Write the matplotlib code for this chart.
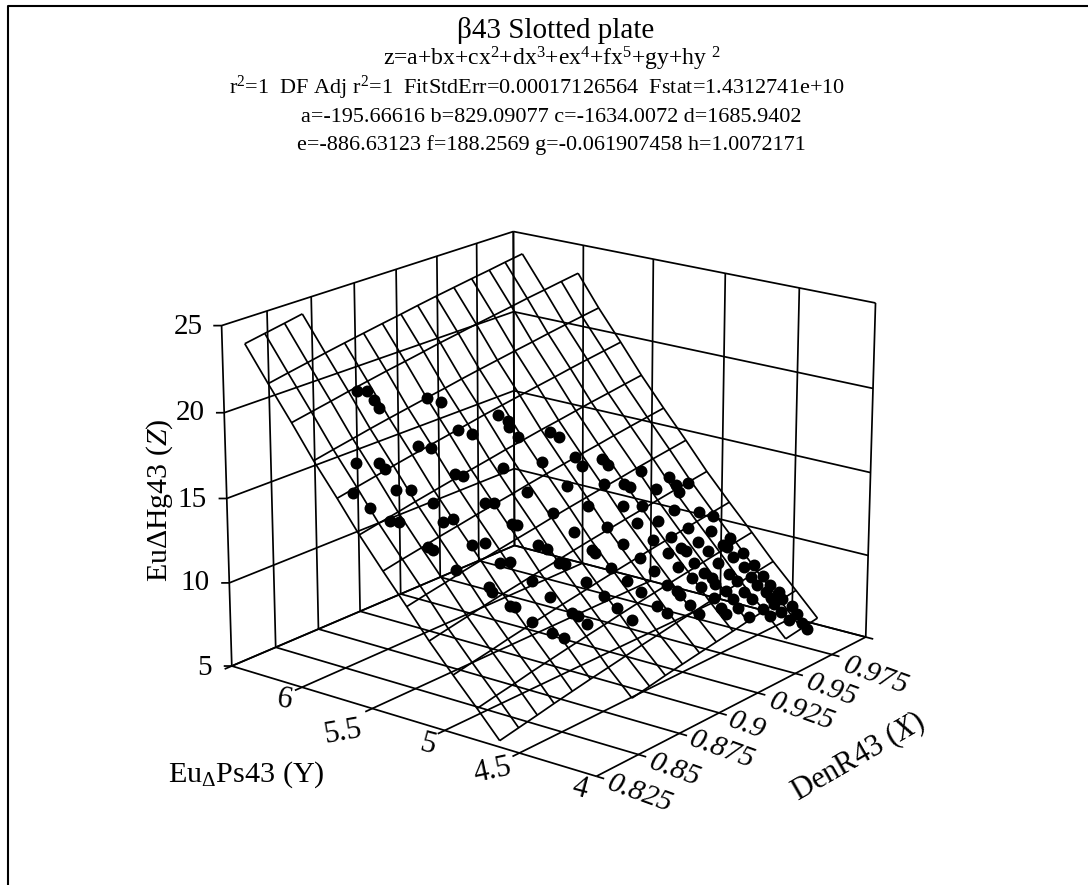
import numpy as np
import matplotlib
matplotlib.use('Agg')
import matplotlib.pyplot as plt

nan = float('nan')

# fitted surface, read on its own grid (gaps = outside the z range)
x_grid = [0.825, 0.836, 0.847, 0.857, 0.868, 0.879, 0.890, 0.901, 0.911, 0.922, 0.933, 0.944, 0.955, 0.965, 0.976, 0.987, 0.998]
y_grid = [6.35, 6.19, 6.03, 5.88, 5.72, 5.57, 5.41, 5.25, 5.10, 4.94, 4.78, 4.63, 4.47, 4.32]
z_grid = [
    [24.27, 24.48, 24.69, 24.89, nan, nan, nan, nan, nan, nan, nan, nan, nan, nan, nan, nan, nan],
    [22.30, 22.52, 22.73, 22.93, 23.13, 23.32, 23.51, 23.69, 23.87, 24.05, 24.22, 24.39, 24.55, 24.71, 24.87, nan, nan],
    [20.39, 20.60, 20.81, 21.01, 21.21, 21.41, 21.59, 21.78, 21.96, 22.13, 22.31, 22.47, 22.64, 22.80, 22.95, 23.11, 23.26],
    [18.52, 18.74, 18.95, 19.15, 19.35, 19.54, 19.73, 19.91, 20.09, 20.27, 20.44, 20.61, 20.77, 20.93, 21.09, 21.24, 21.39],
    [16.71, 16.92, 17.13, 17.33, 17.53, 17.72, 17.91, 18.10, 18.28, 18.45, 18.62, 18.79, 18.95, 19.11, 19.27, 19.42, 19.57],
    [14.94, 15.15, 15.36, 15.56, 15.76, 15.96, 16.14, 16.33, 16.51, 16.68, 16.86, 17.02, 17.19, 17.35, 17.50, 17.66, 17.81],
    [13.22, 13.44, 13.64, 13.85, 14.04, 14.24, 14.43, 14.61, 14.79, 14.97, 15.14, 15.31, 15.47, 15.63, 15.79, 15.94, 16.09],
    [11.55, 11.77, 11.97, 12.18, 12.38, 12.57, 12.76, 12.94, 13.12, 13.30, 13.47, 13.64, 13.80, 13.96, 14.12, 14.27, 14.42],
    [9.93, 10.15, 10.36, 10.56, 10.76, 10.95, 11.14, 11.32, 11.50, 11.68, 11.85, 12.02, 12.18, 12.34, 12.50, 12.65, 12.80],
    [8.36, 8.58, 8.78, 8.99, 9.19, 9.38, 9.57, 9.75, 9.93, 10.11, 10.28, 10.45, 10.61, 10.77, 10.93, 11.08, 11.23],
    [6.84, 7.06, 7.26, 7.47, 7.66, 7.86, 8.05, 8.23, 8.41, 8.59, 8.76, 8.93, 9.09, 9.25, 9.41, 9.56, 9.71],
    [5.37, 5.58, 5.79, 5.99, 6.19, 6.39, 6.57, 6.76, 6.94, 7.11, 7.29, 7.45, 7.62, 7.78, 7.93, 8.09, 8.24],
    [nan, nan, nan, nan, nan, nan, 5.15, 5.34, 5.52, 5.69, 5.86, 6.03, 6.19, 6.35, 6.51, 6.66, 6.81],
    [nan, nan, nan, nan, nan, nan, nan, nan, nan, nan, nan, nan, nan, nan, 5.14, 5.29, 5.44],
]

# data points: x y z
pts = """0.861 6.02 20.9|0.865 6.00 20.8|0.866 5.96 20.3|0.866 5.93 19.9|0.890 5.88 19.7|0.895 5.84 19.4|0.917 5.69 18.1
0.920 5.66 17.7|0.919 5.64 17.4|0.920 5.59 16.9|0.895 5.72 18.0|0.900 5.68 17.6|0.873 5.74 17.8|0.878 5.71 17.6
0.842 5.80 17.9|0.852 5.76 17.6|0.853 5.73 17.3|0.904 5.51 15.8|0.881 5.58 16.2|0.884 5.56 16.0|0.833 5.71 16.7
0.852 5.64 16.3|0.858 5.61 16.1|0.908 5.39 14.5|0.864 5.53 15.3|0.886 5.43 14.6|0.890 5.41 14.5|0.836 5.63 15.9
0.841 5.55 15.1|0.844 5.53 15.0|0.863 5.45 14.4|0.868 5.44 14.4|0.892 5.31 13.4|0.894 5.30 13.3|0.850 5.40 13.6
0.851 5.38 13.4|0.869 5.32 13.1|0.875 5.30 13.0|0.876 5.21 12.0|0.880 5.19 11.9|0.855 5.27 12.3|0.864 5.15 11.2
0.864 5.13 11.0|0.868 5.05 10.2|0.869 5.03 10.1|0.936 5.54 16.7|0.939 5.51 16.3|0.924 5.46 15.5|0.940 5.41 15.3
0.941 5.37 14.8|0.952 5.35 14.8|0.953 5.32 14.5|0.966 5.23 13.8|0.978 5.16 13.1|0.978 5.11 12.7|0.977 5.08 12.4
0.928 5.33 14.2|0.945 5.26 13.8|0.954 5.22 13.5|0.956 5.20 13.3|0.968 5.14 12.8|0.931 5.22 13.1|0.913 5.26 13.3
0.947 5.15 12.6|0.956 5.11 12.3|0.969 5.03 11.7|0.917 5.16 12.2|0.933 5.11 12.0|0.948 5.06 11.7|0.958 5.02 11.5
0.897 5.19 12.2|0.900 5.16 11.9|0.919 5.06 11.3|0.920 5.05 11.1|0.935 5.02 11.1|0.950 4.97 10.8|0.959 4.94 10.7
0.938 4.93 10.3|0.952 4.89 10.1|0.901 5.09 11.2|0.903 5.07 11.1|0.922 4.96 10.3|0.940 4.86 9.6|0.952 4.82 9.4
0.884 5.08 10.9|0.907 4.97 10.1|0.925 4.88 9.6|0.941 4.78 8.9|0.927 4.81 9.0|0.944 4.74 8.5|0.887 4.99 10.0
0.910 4.88 9.3|0.930 4.73 8.2|0.912 4.81 8.7|0.891 4.89 9.1|0.893 4.87 8.9|0.932 4.68 7.8|0.915 4.74 8.0
0.872 4.95 9.3|0.894 4.82 8.5|0.877 4.87 8.6|0.880 4.82 8.3|0.985 5.10 12.6|0.980 4.97 11.3|0.986 4.93 10.9
0.970 4.94 10.8|0.980 4.88 10.3|0.986 4.81 9.8|0.970 4.87 10.1|0.980 4.80 9.6|0.981 4.78 9.5|0.960 4.88 10.1
0.961 4.86 9.9|0.971 4.81 9.6|0.987 4.73 9.0|0.981 4.74 9.0|0.961 4.80 9.3|0.972 4.75 9.0|0.988 4.66 8.4
0.982 4.67 8.5|0.962 4.74 8.8|0.973 4.68 8.4|0.988 4.60 7.8|0.982 4.62 8.0|0.955 4.75 8.8|0.964 4.71 8.5
0.956 4.70 8.3|0.974 4.64 8.0|0.963 4.68 8.2|0.982 4.58 7.6|0.988 4.55 7.4|0.944 4.72 8.3|0.966 4.63 7.8
0.974 4.59 7.5|0.983 4.53 7.2|0.989 4.50 7.0|0.958 4.63 7.7|0.966 4.58 7.4|0.975 4.54 7.1|0.984 4.50 6.9
0.988 4.47 6.7|0.945 4.66 7.8|0.965 4.54 7.0|0.958 4.58 7.2|0.976 4.48 6.6|0.983 4.47 6.6|0.990 4.42 6.3
0.946 4.61 7.3|0.958 4.55 6.9|0.967 4.48 6.5|0.977 4.44 6.2|0.984 4.43 6.2|0.990 4.38 5.9|0.984 4.38 5.8
0.989 4.34 5.5|0.989 4.30 5.2"""
rows = [[float(v) for v in p.split()] for p in pts.replace('\n', '|').split('|')]
x_pts = [r[0] for r in rows]
y_pts = [r[1] for r in rows]
z_pts = [r[2] for r in rows]

x_ticks = [0.825, 0.85, 0.875, 0.9, 0.925, 0.95, 0.975]
y_ticks = [4, 4.5, 5, 5.5, 6]
z_ticks = [5, 10, 15, 20, 25]
x_min, x_max = 0.825, 0.9987
y_min, y_max = 4, 6.5142
z_min, z_max = 5, 25

plt.rcParams['font.family'] = ['Liberation Serif', 'DejaVu Serif']
plt.rcParams['mathtext.fontset'] = 'custom'
plt.rcParams['mathtext.rm'] = 'Liberation Serif'
plt.rcParams['mathtext.it'] = 'Liberation Serif:italic'

W, H = 1088, 885
fig = plt.figure(figsize=(W/100, H/100), dpi=100)
ax = fig.add_subplot(projection='3d', computed_zorder=False)
ax.view_init(18.586, -142.254)
ax.set_proj_type('persp', focal_length=0.9406)
ax.set_box_aspect((1, 1.0021, 0.7761))
ax.set_axis_off()

# place the 3d box on the page
scale, tx, ty = 3882.680, 552.050, 399.615
vl = ax.viewLim
ax.set_position([(tx + scale*vl.x0)/W, (ty + scale*vl.y0)/H, scale*vl.width/W, scale*vl.width/H])

lw = 1.25
def line(xs, ys, zs, w=lw, z=1):
    ax.plot(xs, ys, zs, color='black', lw=w, zorder=z, solid_capstyle='butt')

# floor, walls
for x in x_ticks[1:] + [x_max]:
    line([x, x], [y_min - 0.05, y_max], [z_min, z_min])
    line([x, x], [y_max, y_max], [z_min, z_max])
for y in y_ticks[1:] + [y_max]:
    line([x_min - 0.004, x_max], [y, y], [z_min, z_min])
    line([x_max, x_max], [y, y], [z_min, z_max])
line([x_min, x_max], [y_min, y_min], [z_min, z_min])
line([x_min, x_min], [y_min, y_max], [z_min, z_min])
line([x_max, x_max], [y_min, y_min], [z_min, z_max])
line([x_min, x_min], [y_max, y_max], [z_min, z_max])
for z in z_ticks:
    line([x_min - 0.0019, x_min, x_max], [y_max + 0.0347, y_max, y_max], [z, z, z])
    line([x_max, x_max], [y_min, y_max], [z, z])
line([x_min, x_min], [y_min - 0.05, y_min], [z_min, z_min])

# surface mesh
z_arr = np.array(z_grid)
for j, y in enumerate(y_grid):
    line(x_grid, [y]*len(x_grid), z_arr[j], z=2)
for i, x in enumerate(x_grid):
    line([x]*len(y_grid), y_grid, z_arr[:, i], z=2)

ax.plot(x_pts, y_pts, z_pts, 'o', color='black', ms=8.6, mew=0, zorder=3)

ax.set_xlim(x_min, x_max)
ax.set_ylim(y_min, y_max)
ax.set_zlim(z_min, z_max)

def label(px, py, s, size=20, ha='center', va='center', **kw):
    fig.text(px/W, 1 - py/H, s, fontsize=size, ha=ha, va=va, color='black', **kw)

# title block
label(556, 30, '\u03b243 Slotted plate', size=21)
label(552, 59, 'z=a+bx+cx$^2$+dx$^3$+ex$^4$+fx$^5$+gy+hy $^2$', size=17)
label(537, 88, 'r$^2$=1  DF Adj r$^2$=1  FitStdErr=0.00017126564  Fstat=1.4312741e+10', size=16)
label(551, 117, 'a=-195.66616 b=829.09077 c=-1634.0072 d=1685.9402', size=15.9)
label(551, 145, 'e=-886.63123 f=188.2569 g=-0.061907458 h=1.0072171', size=15.9)

# z ticks
for t, px, py in zip(['25', '20', '15', '10', '5'], [203, 205, 207, 210, 212], [327, 413, 500, 583, 668]):
    label(px, py, t, size=21, ha='right')

# y ticks
y_labels = ['6', '5.5', '5', '4.5', '4']
y_pos = [(284, 700), (343, 732), (427, 745), (492, 771), (580, 789)]
y_rot = [-10, 10, -15, 12, -15]
for t, (px, py), r in zip(y_labels, y_pos, y_rot):
    label(px, py, t, size=22, rotation=r, rotation_mode='anchor')

# x ticks
x_labels = ['0.825', '0.85', '0.875', '0.9', '0.925', '0.95', '0.975']
x_pos = [(640, 794), (675, 770), (722, 750), (747, 726), (802, 712), (832, 690), (876, 676)]
for t, (px, py) in zip(x_labels, x_pos):
    label(px, py, t, size=21.5, rotation=-20, style='italic', rotation_mode='anchor')

label(160, 500, 'Eu\u0394Hg43 ($\\mathit{Z}$)', size=21.5, rotation=90)
label(246, 775, 'Eu$_{\\mathrm{\u0394}}$Ps43 (Y)', size=21.7)
label(858, 757, 'DenR43 ($\\mathit{X}$)', size=22, rotation=30, rotation_mode='anchor')

# page frame
fig.add_artist(plt.Line2D([8/W, 8/W, 1], [0, 1 - 6/H, 1 - 6/H], color='black', lw=1.5))

fig.savefig('out.png', dpi=100)
